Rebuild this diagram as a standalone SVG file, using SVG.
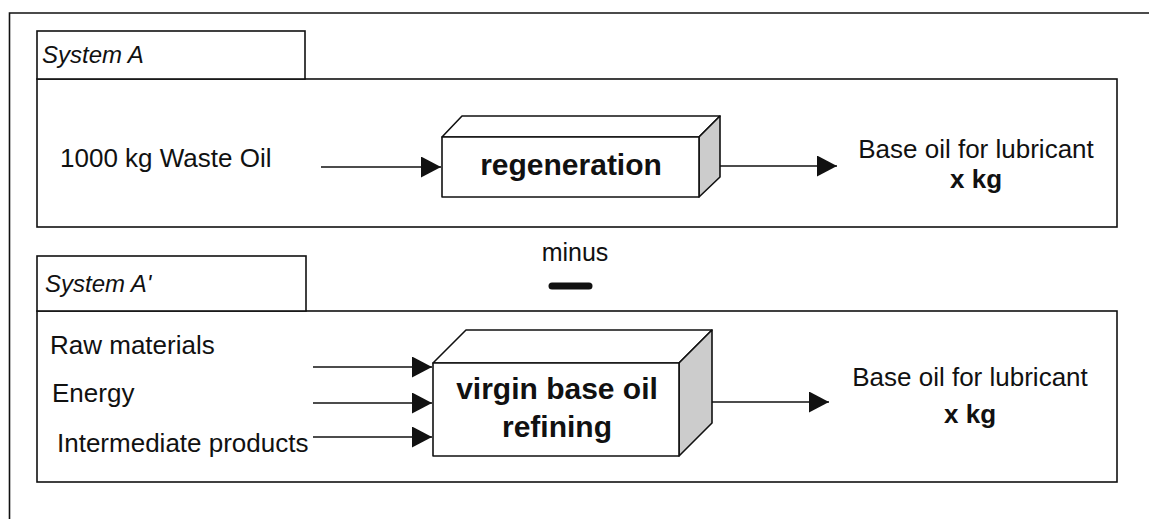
<svg xmlns="http://www.w3.org/2000/svg" width="1149" height="519" viewBox="0 0 1149 519">
  <defs>
    <style>
      .frame { fill: none; stroke: #111; stroke-width: 1.6; }
      .panel { fill: #fff; stroke: #111; stroke-width: 1.6; }
      .face { fill: #fff; stroke: #111; stroke-width: 1.6; stroke-linejoin: round; }
      .side { fill: #cccccc; stroke: #111; stroke-width: 1.6; stroke-linejoin: round; }
      .link { fill: none; stroke: #111; stroke-width: 1.6; marker-end: url(#head); }
      .txt { font-family: "Liberation Sans", Arial, sans-serif; font-size: 26px; fill: #111; }
      .tab { font-family: "Liberation Sans", Arial, sans-serif; font-size: 24px; font-style: italic; fill: #111; }
      .bold { font-weight: bold; }
      .proc { font-family: "Liberation Sans", Arial, sans-serif; font-size: 30px; font-weight: bold; fill: #111; text-anchor: middle; }
      .mid { text-anchor: middle; }
    </style>
    <marker id="head" markerUnits="userSpaceOnUse" markerWidth="21" markerHeight="22" refX="20" refY="10.5" orient="auto">
      <path d="M0,0 L20,10.5 L0,21 Z" fill="#111"/>
    </marker>
  </defs>

  <rect width="1149" height="519" fill="#fff"/>

  <!-- outer frame -->
  <path class="frame" d="M9.5,519 V13 H1149"/>

  <!-- System A -->
  <g id="systemA">
    <rect class="panel" x="37" y="79" width="1080" height="148"/>
    <rect class="panel" x="37" y="31" width="268" height="48"/>
    <text class="tab" x="42" y="63">System A</text>
    <text class="txt" x="60" y="167">1000 kg Waste Oil</text>
    <text class="txt mid" x="976" y="158">Base oil for lubricant</text>
    <text class="txt mid bold" x="976" y="188">x kg</text>
  </g>

  <g id="regeneration">
    <polygon class="face" points="442,137 462,116 720,116 699,137"/>
    <polygon class="side" points="699,137 720,116 720,177 699,197"/>
    <rect class="face" x="442" y="137" width="257" height="60"/>
    <text class="proc" x="571" y="175">regeneration</text>
  </g>

  <!-- difference sign -->
  <g id="minus">
    <text class="txt mid" x="575" y="261" style="font-size:25px">minus</text>
    <path d="M552,286 H589" stroke="#111" stroke-width="7" stroke-linecap="round"/>
  </g>

  <!-- System A' -->
  <g id="systemA2">
    <rect class="panel" x="37" y="311" width="1080" height="171"/>
    <rect class="panel" x="37" y="256" width="269" height="55"/>
    <text class="tab" x="45" y="292">System A'</text>
    <text class="txt" x="50" y="354">Raw materials</text>
    <text class="txt" x="52" y="402">Energy</text>
    <text class="txt" x="57" y="452">Intermediate products</text>
    <text class="txt mid" x="970" y="386">Base oil for lubricant</text>
    <text class="txt mid bold" x="970" y="423">x kg</text>
  </g>

  <g id="refining">
    <polygon class="face" points="433,363 466,330 712,330 679,363"/>
    <polygon class="side" points="679,363 712,330 712,423 679,456"/>
    <rect class="face" x="433" y="363" width="246" height="93"/>
    <text class="proc" x="557" y="399">virgin base oil</text>
    <text class="proc" x="557" y="437">refining</text>
  </g>

  <!-- flows -->
  <g id="connectors">
    <path class="link" d="M321,167 H441"/>
    <path class="link" d="M720,166 H837"/>
    <path class="link" d="M313,367 H432"/>
    <path class="link" d="M313,403 H432"/>
    <path class="link" d="M313,437 H432"/>
    <path class="link" d="M712,402 H829"/>
  </g>
</svg>
